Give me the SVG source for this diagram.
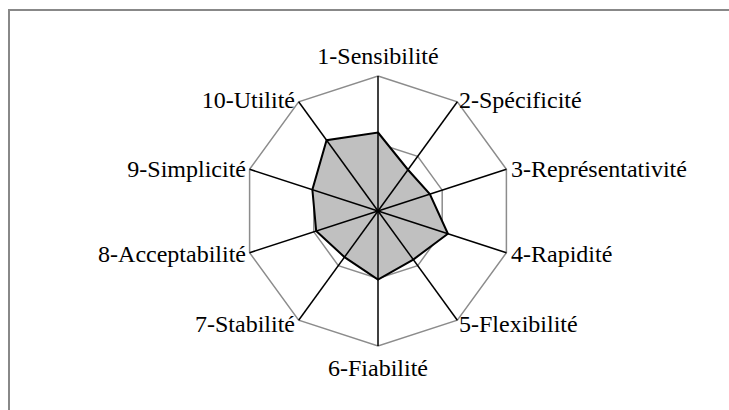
<svg xmlns="http://www.w3.org/2000/svg" width="729" height="410" viewBox="0 0 729 410">
  <style>
    .lbl { font-family: "Liberation Serif", "Times New Roman", serif; font-size: 24px; fill: #000; }
    .ring { fill: none; stroke: #8c8c8c; stroke-width: 1.5; }
    .axis { stroke: #000; stroke-width: 1.5; }
  </style>
  <rect width="729" height="410" fill="#fff"/>
  <rect id="frame" x="9" y="10" width="740" height="420" fill="none" stroke="#888" stroke-width="2"/>
  <g id="grid">
    <polygon class="ring" points="378,76 457.35,101.78 506.40,169.28 506.40,252.72 457.35,320.22 378,346 298.65,320.22 249.60,252.72 249.60,169.28 298.65,101.78"/>
    <polygon class="ring" points="378,143.5 417.68,156.39 442.20,190.14 442.20,231.86 417.68,265.61 378,278.5 338.32,265.61 313.80,231.86 313.80,190.14 338.32,156.39"/>
  </g>
  <g id="data">
    <polygon points="378,132.5 407.98,169.74 429.83,194.16 447.91,233.71 413.27,259.54 378,279.5 344.50,257.11 316.18,231.09 312.37,189.68 326.57,140.21" fill="#c0c0c0" stroke="#000" stroke-width="2" stroke-linejoin="miter"/>
  </g>
  <g id="axes">
    <line class="axis" x1="378" y1="211" x2="378" y2="76"/>
    <line class="axis" x1="378" y1="211" x2="457.35" y2="101.78"/>
    <line class="axis" x1="378" y1="211" x2="506.40" y2="169.28"/>
    <line class="axis" x1="378" y1="211" x2="506.40" y2="252.72"/>
    <line class="axis" x1="378" y1="211" x2="457.35" y2="320.22"/>
    <line class="axis" x1="378" y1="211" x2="378" y2="346"/>
    <line class="axis" x1="378" y1="211" x2="298.65" y2="320.22"/>
    <line class="axis" x1="378" y1="211" x2="249.60" y2="252.72"/>
    <line class="axis" x1="378" y1="211" x2="249.60" y2="169.28"/>
    <line class="axis" x1="378" y1="211" x2="298.65" y2="101.78"/>
  </g>
  <g id="labels">
    <text id="l1" class="lbl" x="378" y="64" text-anchor="middle">1-Sensibilité</text>
    <text id="l2" class="lbl" x="459" y="108">2-Spécificité</text>
    <text id="l3" class="lbl" x="511" y="177">3-Représentativité</text>
    <text id="l4" class="lbl" x="511" y="262">4-Rapidité</text>
    <text id="l5" class="lbl" x="459" y="332">5-Flexibilité</text>
    <text id="l6" class="lbl" x="378" y="376" text-anchor="middle">6-Fiabilité</text>
    <text id="l7" class="lbl" x="295" y="332" text-anchor="end">7-Stabilité</text>
    <text id="l8" class="lbl" x="246" y="262" text-anchor="end">8-Acceptabilité</text>
    <text id="l9" class="lbl" x="246" y="177" text-anchor="end">9-Simplicité</text>
    <text id="l10" class="lbl" x="295" y="108" text-anchor="end">10-Utilité</text>
  </g>
</svg>
